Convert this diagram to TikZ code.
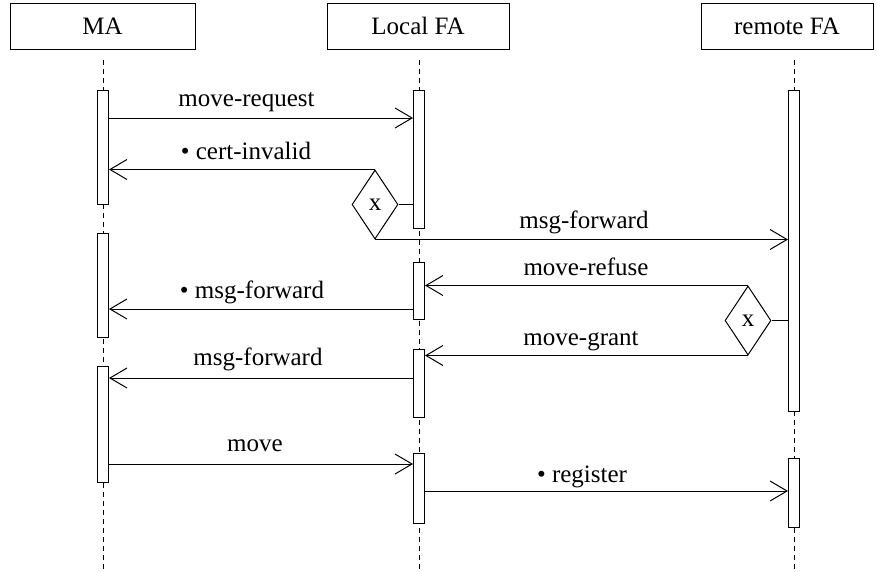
\documentclass[tikz,border=0pt]{standalone}
\usepackage{fontspec}
\setmainfont{Liberation Serif}
\usetikzlibrary{arrows.meta,shapes.geometric}
\begin{document}
\begin{tikzpicture}[x=1pt,y=-1pt,
  every node/.style={font=\fontsize{25}{29}\selectfont},
  head/.style={draw,line width=1pt,minimum width=#1,minimum height=46pt,inner sep=0pt},
  bar/.style={draw,line width=1pt,fill=white,minimum width=11pt,minimum height=#1,inner sep=0pt},
  life/.style={line width=1pt,dash pattern=on 5pt off 4pt},
  msg/.style={line width=1pt,-{Straight Barb[length=17pt,width=20pt,line width=1pt]}},
  link/.style={line width=1pt},
  choice/.style={draw,line width=1pt,diamond,minimum width=46pt,minimum height=69pt,inner sep=0pt,fill=white},
  lbl/.style={anchor=base,inner sep=0pt}]
\useasboundingbox (0,0) rectangle (877,571);
% headers
\node[head=185pt] (hMA) at (102.5,26) {MA};
\node[head=182pt] (hLF) at (418,26) {Local FA};
\node[head=172pt] (hRF) at (787,26) {remote FA};
% lifelines
\coordinate (eMA) at (103,571);
\coordinate (eLF) at (419,571);
\coordinate (eRF) at (794,571);
\draw[life] (103,60) coordinate (sMA) -- (eMA);
\draw[life] (419,60) coordinate (sLF) -- (eLF);
\draw[life] (794,60) coordinate (sRF) -- (eRF);
% activation bars
\node[bar=114pt] (ma1) at (103,147) {};
\node[bar=104pt] (ma2) at (103,285) {};
\node[bar=116pt] (ma3) at (103,424) {};
\node[bar=138pt] (lf1) at (419,159) {};
\node[bar=57pt] (lf2) at (419,290.5) {};
\node[bar=68pt] (lf3) at (419,383) {};
\node[bar=70pt] (lf4) at (419,488) {};
\node[bar=321pt] (rf1) at (794,250.5) {};
\node[bar=69pt] (rf2) at (794,492.5) {};
% choice diamonds
\node[choice] (d1) at (375,204.5) {x};
\node[choice] (d2) at (748,320.5) {x};
\draw[link] (d1.east) -- (lf1.west |- d1.east);
\draw[link] (d2.east) -- (rf1.west |- d2.east);
% messages
\draw[msg] (ma1.east |- 0,118) -- (lf1.west |- 0,118);
\node[lbl] (t1) at (246.5,106) {move-request};
\draw[msg] (d1.north) -- (ma1.east |- d1.north);
\node[lbl] (t2) at (246,159) {• cert-invalid};
\draw[msg] (d1.south) -- (rf1.west |- d1.south);
\node[lbl] (t3) at (584,228) {msg-forward};
\draw[msg] (d2.north) -- (lf2.east |- d2.north);
\node[lbl] (t4) at (586,275) {move-refuse};
\draw[msg] (lf2.west |- 0,309) -- (ma2.east |- 0,309);
\node[lbl] (t5) at (252,298) {• msg-forward};
\draw[msg] (d2.south) -- (lf3.east |- d2.south);
\node[lbl] (t6) at (581,345) {move-grant};
\draw[msg] (lf3.west |- 0,378) -- (ma3.east |- 0,378);
\node[lbl] (t7) at (258,365) {msg-forward};
\draw[msg] (ma3.east |- 0,464) -- (lf4.west |- 0,464);
\node[lbl] (t8) at (255,451) {move};
\draw[msg] (lf4.east |- 0,491) -- (rf2.west |- 0,491);
\node[lbl] (t9) at (582,482) {• register};
\end{tikzpicture}
\end{document}
